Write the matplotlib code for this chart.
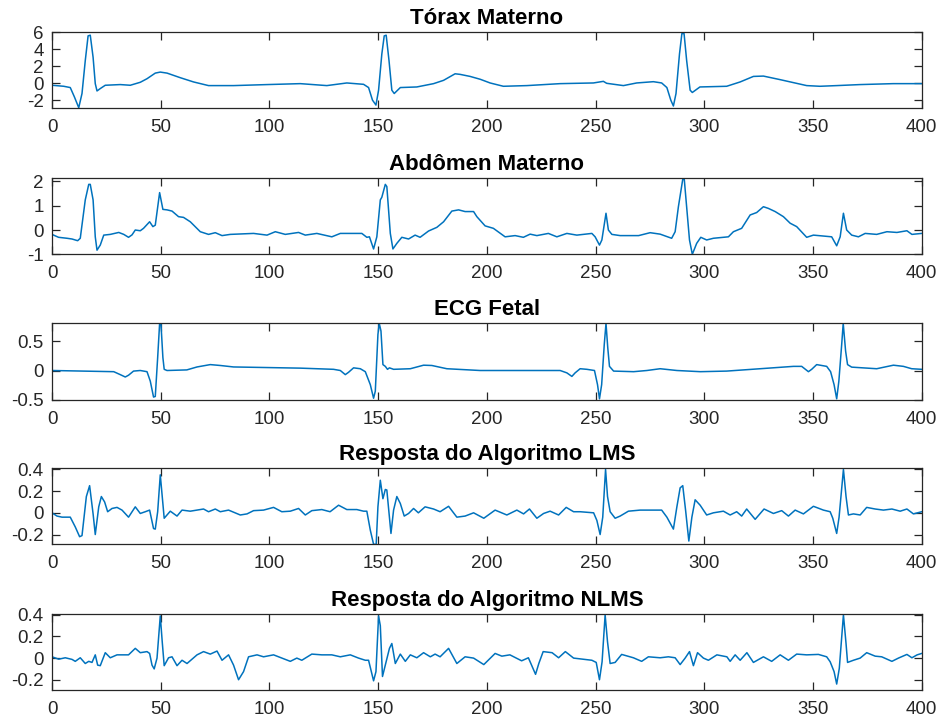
import matplotlib
matplotlib.use("Agg")
import matplotlib.pyplot as plt

# ---------------- data (sample index, amplitude) ----------------
torax_t = [0, 5.4, 8.4, 10.3, 12.3, 13.8, 15.3, 16.6, 17.6, 18.9, 19.9, 20.7, 22.2, 24.5, 31.4, 36, 40.6, 43.7, 47.5, 49.8,
           52.9, 59, 65.1, 72, 83.5, 98.9, 114.2, 126.4, 135.6, 143.3, 145.6, 147.4, 149, 150.2, 151.7, 152.8, 153.7, 155,
           156.3, 157.4, 160.2, 167.8, 175.5, 180.1, 185.4, 187.7, 192.3, 197, 201.5, 207.6, 218.4, 233.7, 249, 253.6,
           255.1, 262.8, 268.9, 276.6, 280.4, 282.8, 284.6, 285.8, 287, 288.6, 289.7, 290.7, 291.9, 293.5, 294.5, 298,
           310.3, 316.5, 322.6, 327.2, 334.9, 347.1, 353.2, 360.9, 371.6, 386.9, 400]
torax_v = [-0.23, -0.35, -0.5, -1.6, -2.87, -1.2, 2.67, 5.58, 5.66, 3.06, -0.04, -0.9, -0.62, -0.23, -0.15, -0.23, 0.12,
           0.54, 1.2, 1.32, 1.2, 0.66, 0.16, -0.27, -0.27, -0.15, -0.04, -0.27, 0.04, -0.12, -0.5, -1.98, -2.56, -0.81,
           3.45, 5.58, 5.66, 2.67, -0.81, -1.2, -0.5, -0.43, -0.04, 0.35, 1.12, 1.05, 0.81, 0.47, 0.04, -0.35, -0.27,
           -0.04, 0.04, 0.23, 0, -0.27, 0.04, 0.19, 0.04, -0.5, -1.98, -2.67, -1.2, 3.45, 5.85, 5.85, 2.67, -0.81, -1.08,
           -0.43, -0.35, 0.16, 0.81, 0.85, 0.43, -0.27, -0.35, -0.27, -0.15, -0.04, -0.04]

abd_t = [0, 3, 6.9, 9.2, 11.8, 13, 15.3, 16.9, 17.6, 18.9, 19.9, 20.7, 22.2, 23.8, 26.8, 30.7, 33, 35.2, 36.8, 38.3, 40.6,
         42.1, 44.9, 46.4, 47.5, 49.5, 51, 52.9, 55.2, 58.2, 60.5, 63.6, 68.2, 72, 75.1, 78.2, 82, 92.7, 98.9, 102.7,
         107.3, 113.4, 116.5, 121.8, 128.7, 132.6, 142.5, 144.8, 146, 147.9, 149.4, 151, 151.7, 153.3, 154, 155.6, 156.8,
         158.6, 160.9, 164, 167, 169.3, 173.2, 177, 180.1, 183.9, 187, 190, 193.9, 195.4, 199.2, 203, 208.4, 213, 216.8,
         219.9, 223, 228.3, 232.2, 236.8, 241.4, 248.3, 249.8, 251.8, 252.9, 254.8, 255.9, 257.5, 261.3, 269.8, 275.1,
         279.7, 285, 286.6, 288.1, 290.1, 290.8, 291.9, 293.2, 294.5, 296.5, 298.4, 301.1, 304.2, 311.1, 313.4, 317.2,
         321.1, 324.1, 327.2, 329.5, 332.6, 336.4, 339.5, 342.5, 347.1, 350.2, 358.6, 360.9, 362.5, 364, 365.5, 367.8,
         370.9, 374, 379.3, 384, 388.6, 393.2, 395.5, 400]
abd_v = [-0.18, -0.3, -0.34, -0.37, -0.44, -0.34, 1.24, 1.88, 1.88, 1.24, -0.28, -0.83, -0.62, -0.21, -0.18, -0.1, -0.18,
         -0.3, -0.2, 0, -0.03, 0.07, 0.34, 0.14, 0.2, 1.54, 0.85, 0.83, 0.78, 0.55, 0.52, 0.34, -0.07, -0.18, -0.11,
         -0.23, -0.18, -0.14, -0.21, -0.07, -0.18, -0.1, -0.21, -0.14, -0.28, -0.14, -0.14, -0.3, -0.28, -0.78, -0.28,
         1.24, 1.35, 1.88, 1.79, -0.14, -0.78, -0.55, -0.3, -0.37, -0.21, -0.3, -0.04, 0.11, 0.34, 0.78, 0.83, 0.76,
         0.76, 0.55, 0.17, 0.07, -0.28, -0.23, -0.3, -0.17, -0.23, -0.14, -0.28, -0.14, -0.21, -0.14, -0.28, -0.62,
         -0.41, 0.69, 0, -0.18, -0.23, -0.23, -0.11, -0.17, -0.34, -0.07, 0.96, 2.09, 2.09, 0.96, -0.41, -1.0, -0.55,
         -0.3, -0.41, -0.34, -0.28, -0.07, 0.07, 0.62, 0.72, 0.96, 0.89, 0.76, 0.55, 0.28, 0.14, -0.3, -0.21, -0.28,
         -0.65, -0.28, 0.69, 0, -0.21, -0.28, -0.14, -0.18, -0.07, -0.1, -0.03, -0.18, -0.14]

fetal_t = [0, 28.4, 31.4, 33.7, 35.2, 37.5, 40.6, 43.7, 45.2, 46.7, 47.5, 48.6, 49.5, 50.1, 51, 51.6, 52.9, 62, 66.7, 72.8,
           77.4, 83.5, 98.9, 114.2, 129.5, 132.6, 134.9, 136.4, 138.7, 141.8, 144.1, 146.4, 147.9, 148.7, 149.9, 150.5,
           151.3, 152.2, 153.3, 154.3, 155.2, 157.1, 164.8, 170.9, 174.7, 181.6, 196.9, 233.7, 236.8, 239.1, 240.6, 242.9,
           246, 249.5, 250.9, 251.8, 252.8, 254, 254.8, 255.6, 256.4, 258.3, 267.5, 273.6, 279.7, 287.4, 298.2, 310.3,
           325.7, 341, 344.8, 347.9, 349.4, 351.7, 356.3, 358.1, 359.7, 360.9, 361.9, 363.2, 363.9, 365, 365.9, 367.8,
           379.3, 387, 391.6, 395.4, 400]
fetal_v = [0, -0.02, -0.07, -0.11, -0.08, -0.01, 0, -0.02, -0.18, -0.45, -0.44, 0.22, 0.8, 0.8, 0.22, 0.02, 0, 0.01, 0.06,
           0.1, 0.085, 0.06, 0.05, 0.04, 0.02, 0, -0.07, -0.03, 0.045, 0.03, -0.02, -0.24, -0.47, -0.35, 0.61, 0.8, 0.67,
           0.1, 0.07, 0.02, 0.045, 0.02, 0.03, 0.09, 0.085, 0.03, 0, 0, -0.04, -0.1, -0.04, 0.03, 0.02, 0, -0.24, -0.48,
           -0.24, 0.44, 0.8, 0.39, 0.07, -0.01, -0.02, 0, 0.03, 0, -0.02, -0.01, 0.03, 0.07, 0.07, -0.02, 0.02, 0.1, 0.07,
           -0.02, -0.24, -0.48, -0.18, 0.44, 0.8, 0.33, 0.1, 0.057, 0.03, 0.09, 0.07, 0.03, 0.02]

lms_t = [0, 2.3, 4.6, 6.9, 8.4, 10.7, 12.7, 13.8, 15.8, 17.3, 18.9, 19.9, 21.5, 22.7, 24.2, 25.6, 27.6, 29.9, 32.2, 35.2,
         38.3, 40.6, 42.9, 44.9, 46.7, 47.5, 48.6, 49.8, 50.7, 51.6, 52.9, 54.4, 57.5, 59.8, 63.6, 66.7, 69.7, 72, 75.1,
         77.4, 81.2, 86.6, 89.7, 92.7, 97.3, 101.9, 105.7, 109.6, 113.4, 116.5, 119.5, 124.1, 127.9, 131.8, 135.6, 140.2,
         143.3, 144.8, 146.4, 147.9, 149.1, 149.9, 151, 152.2, 153.3, 154, 155.9, 157.1, 158.6, 160.2, 162, 164, 166.3,
         168.5, 171.6, 175.5, 178.5, 182.4, 186.2, 190, 193.9, 198.6, 203.8, 209.2, 213.8, 216.9, 219.6, 223, 226.1,
         229.1, 233, 236.5, 239.9, 242.9, 249.1, 250.6, 252.1, 253.3, 254.6, 255.5, 256.7, 259, 261.3, 265.1, 270.5,
         276.6, 280.4, 282.8, 285.8, 287.4, 288.9, 290.1, 291.4, 292.9, 294.3, 295.8, 298.1, 301.1, 304.2, 308.8, 311.9,
         314.9, 317.2, 319.5, 323.4, 327.5, 331.8, 335.6, 338.7, 341.8, 345.6, 350.2, 354.8, 357.9, 359.1, 360.9, 362,
         364, 365.2, 366.3, 368.6, 371.7, 374.7, 378.6, 382.4, 386.3, 390.1, 393.2, 396.2, 400]
lms_v = [0, -0.03, -0.04, -0.04, -0.04, -0.13, -0.22, -0.21, 0.15, 0.25, -0.01, -0.2, 0.055, 0.15, 0.1, 0.01, 0.04, 0.05,
         0.025, -0.04, 0.055, -0.006, 0.01, 0.025, -0.145, -0.15, 0.01, 0.35, 0.15, -0.05, -0.02, 0.015, -0.03, 0.025,
         0.015, 0.025, 0.035, 0.01, 0.035, 0.01, 0.025, -0.02, -0.01, 0.02, 0.025, 0.05, 0.01, 0.015, 0.04, -0.02, 0.02,
         0.03, 0.01, 0.07, 0.03, 0.03, 0.015, 0.015, -0.16, -0.29, -0.29, 0.055, 0.3, 0.13, 0.215, 0.21, -0.19, 0.025,
         0.15, 0.086, -0.03, -0.006, 0.04, 0, 0.055, 0.035, 0.01, 0.06, -0.04, -0.03, 0, -0.05, 0.025, -0.02, 0.025,
         -0.01, 0.035, -0.05, -0.006, 0.015, -0.02, 0.05, 0.01, 0.01, 0, -0.07, -0.2, -0.04, 0.4, 0.15, 0.01, -0.05,
         -0.03, 0.015, 0.025, 0.025, 0.025, -0.04, -0.15, 0.055, 0.23, 0.25, 0.025, -0.26, -0.04, 0.12, 0.07, -0.02, 0,
         0.015, -0.02, 0.01, -0.03, 0.035, -0.06, 0.035, -0.006, 0.02, -0.03, 0.025, -0.01, 0.06, 0.025, 0.01, -0.05,
         -0.19, -0.04, 0.4, 0.15, -0.02, -0.01, -0.02, 0.05, 0.035, 0.025, 0.035, 0.015, 0.035, -0.01, 0.01]

nlms_t = [0, 3.1, 6.1, 9.2, 10.7, 13, 15.3, 16.9, 18.4, 19.9, 21, 22.2, 24.5, 26.8, 29.9, 35.2, 38.3, 40.6, 43.7, 44.9,
          46, 47, 48.3, 49.8, 50.7, 51.6, 53.6, 55.2, 57.5, 59.8, 62.1, 66.7, 69.7, 72.8, 75.9, 78.2, 81.2, 83.5, 85.8,
          88.1, 90.4, 94.3, 97.3, 101.9, 105.7, 109.6, 112.6, 114.9, 119.5, 124.1, 128.7, 132.6, 137.2, 141, 144.1,
          145.6, 146.7, 147.9, 149, 150.2, 151, 152, 153.3, 155.2, 156.3, 157.9, 160.2, 162.5, 164.8, 167.8, 170.9, 174,
          176.2, 178.5, 182.4, 186.2, 190, 193.9, 198.6, 203.8, 206.9, 210.6, 216, 219.1, 222.4, 223.9, 225.9, 230, 233,
          236.1, 239.9, 248.3, 250.3, 251.8, 253, 254.4, 255.5, 256.7, 259, 262, 267.4, 271.2, 274.3, 279.7, 283.5,
          286.6, 288.9, 291.2, 293.2, 295, 296.9, 299.6, 301.9, 305.8, 310.4, 311.9, 314.2, 316.5, 319.6, 322.6, 327.2,
          331, 334.9, 338.7, 342.5, 347.1, 352.5, 356.3, 357.9, 359.7, 360.9, 362.1, 364, 365.2, 365.9, 368.6, 371.7,
          374.7, 378.6, 381.6, 386.3, 389.3, 393.2, 395.5, 397.9, 400]
nlms_v = [0.012, -0.01, 0.003, -0.012, -0.03, 0.003, -0.05, -0.03, -0.04, 0.03, -0.065, -0.07, 0.05, 0.003, 0.03, 0.03,
          0.09, 0.05, 0.06, 0.043, -0.065, -0.1, 0, 0.39, 0.15, -0.07, 0.003, 0.012, -0.07, -0.02, -0.05, 0.03, 0.06,
          0.037, 0.065, -0.02, 0.03, -0.065, -0.2, -0.125, 0.012, 0.03, 0.012, 0.03, 0, -0.03, 0, -0.02, 0.037, 0.03,
          0.03, 0.012, 0.03, 0, -0.02, -0.02, -0.11, -0.21, -0.125, 0.39, 0.3, -0.17, -0.065, 0.09, 0.135, -0.05, 0.037,
          -0.03, 0.03, 0.003, 0.05, 0.012, 0.037, 0.012, 0.09, -0.05, 0.012, 0, -0.06, 0.043, 0.018, 0.03, -0.025, 0.003,
          -0.15, -0.05, 0.06, 0.05, 0.003, 0.06, 0, -0.02, -0.04, -0.2, -0.034, 0.4, 0.15, -0.05, -0.04, 0.034, 0.003,
          -0.03, 0.012, 0.003, 0.012, 0.003, -0.06, 0, 0.06, -0.07, 0.05, 0, -0.02, 0.03, 0.012, -0.03, 0.03, -0.02,
          0.05, -0.04, 0.012, -0.03, 0.03, -0.02, 0.037, 0.03, 0.034, 0.012, -0.034, -0.125, -0.24, -0.095, 0.4, 0.135,
          -0.04, -0.02, 0, 0.05, 0.018, 0.012, -0.03, 0, 0.034, 0.003, 0.03, 0.043]

titles = ["Tórax Materno", "Abdômen Materno", "ECG Fetal",
          "Resposta do Algoritmo LMS", "Resposta do Algoritmo NLMS"]
ylims = [(-2.87, 5.9), (-1.0, 2.13), (-0.5, 0.8), (-0.29, 0.41), (-0.295, 0.405)]
yticks = [[-2, 0, 2, 4, 6], [-1, 0, 1, 2], [-0.5, 0, 0.5], [-0.2, 0, 0.2, 0.4], [-0.2, 0, 0.2, 0.4]]
ytlabels = [["-2", "0", "2", "4", "6"], ["-1", "0", "1", "2"], ["-0.5", "0", "0.5"],
            ["-0.2", "0", "0.2", "0.4"], ["-0.2", "0", "0.2", "0.4"]]
xticks = [0, 50, 100, 150, 200, 250, 300, 350, 400]

series = [(torax_t, torax_v), (abd_t, abd_v), (fetal_t, fetal_v), (lms_t, lms_v), (nlms_t, nlms_v)]

# ---------------- layout ----------------
W, H = 941, 724
fig = plt.figure(figsize=(W / 100, H / 100), dpi=100)
plt.rcParams['font.family'] = ['Liberation Sans', 'DejaVu Sans']
left_px, right_px = 52, 921.7
tops = [32.3, 178.3, 323.3, 468.3, 614.3]
bots = [107.7, 254.3, 400.0, 544.3, 690.0]
dark = '#262626'

for i, (t, v) in enumerate(series):
    ax = fig.add_axes([left_px / W, 1 - bots[i] / H, (right_px - left_px) / W, (bots[i] - tops[i]) / H])
    ax.plot(t, v, color='#0072BD', lw=1.1)
    ax.set_xlim(0, 400)
    ax.set_ylim(*ylims[i])
    ax.set_xticks(xticks)
    ax.set_xticklabels([str(x) for x in xticks])
    ax.set_yticks(yticks[i])
    ax.set_yticklabels(ytlabels[i])
    ax.tick_params(direction='in', top=True, right=True, length=6, width=0.9,
                   colors=dark, labelsize=13.5)
    ax.tick_params(axis='x', pad=8)
    ax.tick_params(axis='y', pad=6)
    for s in ax.spines.values():
        s.set_color(dark)
        s.set_linewidth(0.9)
    ax.set_title(titles[i], fontsize=16, fontweight='bold', color='black', pad=6)

fig.savefig('out.png', dpi=100)
